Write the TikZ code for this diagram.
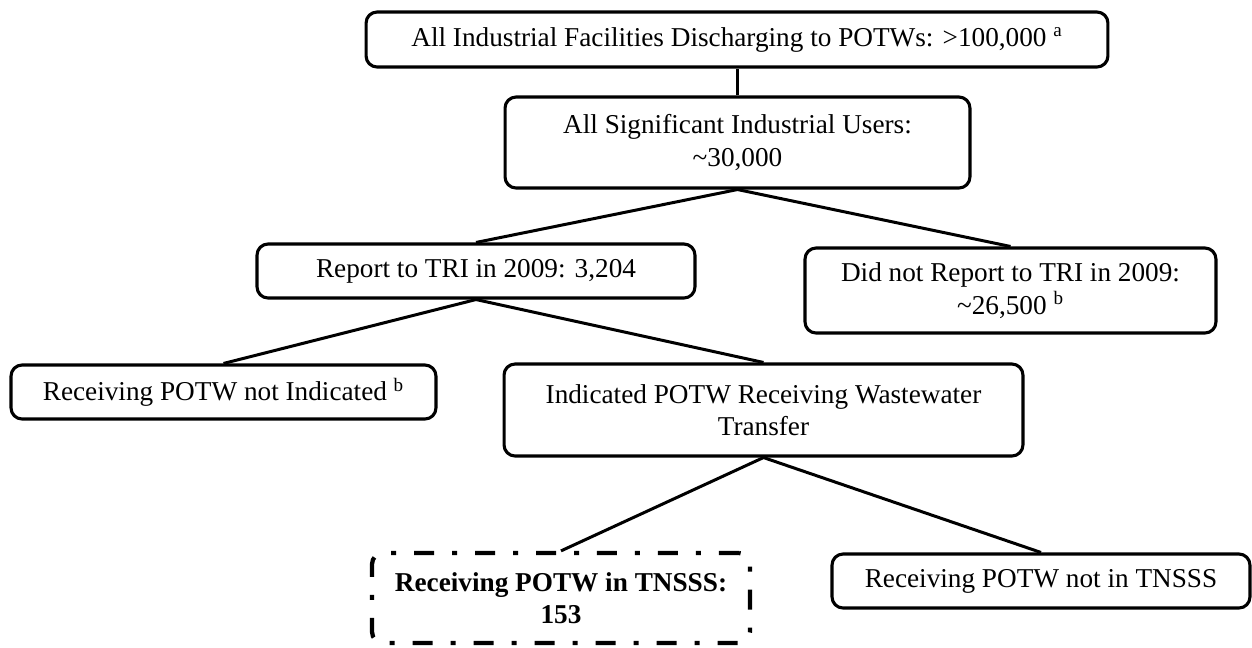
\documentclass[tikz,border=0pt]{standalone}
\usepackage{fontspec}
\setmainfont{Liberation Serif}
\begin{document}
\begin{tikzpicture}[x=0.02cm,y=-0.02cm,
  box/.style={draw=black, line width=0.062cm, rounded corners=0.22cm,
    align=center, inner sep=0pt, font=\fontsize{15.5}{18.5}\selectfont},
  link/.style={draw=black, line width=0.06cm},
  chosen/.style={box, line width=0.085cm,
    dash pattern=on 0.4cm off 0.36cm on 0.1cm off 0.36cm,
    font=\fontsize{15.5}{18.5}\selectfont\bfseries}]
\useasboundingbox (0,0) rectangle (1252,647);

% levels of the breakdown
\node[box, minimum width=14.84cm, minimum height=1.10cm] (b1) at (737,39.5)
  {All Industrial Facilities Discharging to POTWs: >100,000 \textsuperscript{a}};
\node[box, minimum width=9.30cm, minimum height=1.82cm] (b2) at (737.5,142.5)
  {All Significant Industrial Users:\\\textasciitilde 30,000};
\node[box, minimum width=8.76cm, minimum height=1.08cm] (b3) at (476,271)
  {Report to TRI in 2009: 3,204};
\node[box, minimum width=8.22cm, minimum height=1.70cm] (b4) at (1010.5,290.5)
  {Did not Report to TRI in 2009:\\\textasciitilde 26,500 \textsuperscript{b}};
\node[box, minimum width=8.50cm, minimum height=1.08cm] (b5) at (223.5,392)
  {Receiving POTW not Indicated \textsuperscript{b}};
\node[box, minimum width=10.38cm, minimum height=1.84cm] (b6) at (763.5,410)
  {Indicated POTW Receiving Wastewater\\Transfer};
\node[chosen, minimum width=7.56cm, minimum height=1.80cm] (b7) at (561,598)
  {Receiving POTW in TNSSS:\\153};
\node[box, minimum width=8.36cm, minimum height=1.08cm] (b8) at (1041,581)
  {Receiving POTW not in TNSSS};

% connectors
\draw[link] (b2.north) -- (b2.north |- b1.south);
\draw[link] (b3.north) -- (b2.south) -- (b4.north);
\draw[link] (b5.north) -- (b3.south) -- (b6.north);
\draw[link] (b7.north) -- (b6.south) -- (b8.north);
\end{tikzpicture}
\end{document}
